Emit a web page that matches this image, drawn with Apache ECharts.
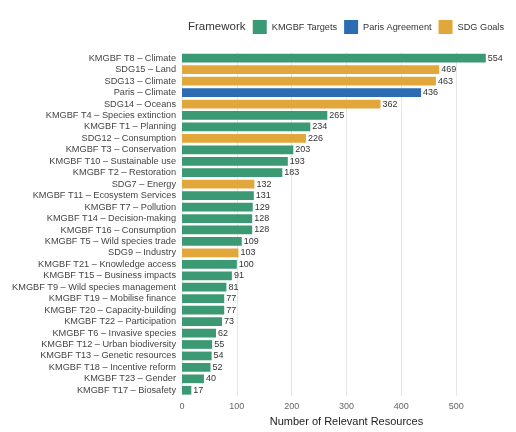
<!DOCTYPE html>
<html>
<head>
<meta charset="utf-8">
<script src="https://cdn.jsdelivr.net/npm/echarts@6/dist/echarts.min.js"></script>
<style>
  html, body { margin: 0; padding: 0; background: #fff; }
  #chart { width: 516px; height: 432px; }
</style>
</head>
<body>
<div id="chart"></div>
<script>
// Categories top to bottom, with counts and framework
const categories = [
    'KMGBF T8 – Climate', 'SDG15 – Land', 'SDG13 – Climate', 'Paris – Climate',
    'SDG14 – Oceans', 'KMGBF T4 – Species extinction', 'KMGBF T1 – Planning',
    'SDG12 – Consumption', 'KMGBF T3 – Conservation', 'KMGBF T10 – Sustainable use',
    'KMGBF T2 – Restoration', 'SDG7 – Energy', 'KMGBF T11 – Ecosystem Services',
    'KMGBF T7 – Pollution', 'KMGBF T14 – Decision-making', 'KMGBF T16 – Consumption',
    'KMGBF T5 – Wild species trade', 'SDG9 – Industry', 'KMGBF T21 – Knowledge access',
    'KMGBF T15 – Business impacts', 'KMGBF T9 – Wild species management',
    'KMGBF T19 – Mobilise finance', 'KMGBF T20 – Capacity-building',
    'KMGBF T22 – Participation', 'KMGBF T6 – Invasive species',
    'KMGBF T12 – Urban biodiversity', 'KMGBF T13 – Genetic resources',
    'KMGBF T18 – Incentive reform', 'KMGBF T23 – Gender', 'KMGBF T17 – Biosafety'
];
const counts = [554, 469, 463, 436, 362, 265, 234, 226, 203, 193, 183, 132, 131, 129, 128,
    128, 109, 103, 100, 91, 81, 77, 77, 73, 62, 55, 54, 52, 40, 17];
const frameworkOf = ['K', 'S', 'S', 'P', 'S', 'K', 'K', 'S', 'K', 'K', 'K', 'S', 'K', 'K', 'K',
    'K', 'K', 'S', 'K', 'K', 'K', 'K', 'K', 'K', 'K', 'K', 'K', 'K', 'K', 'K'];
const frameworks = [
    { key: 'K', name: 'KMGBF Targets', color: '#3b9a73' },
    { key: 'P', name: 'Paris Agreement', color: '#2b6cb2' },
    { key: 'S', name: 'SDG Goals', color: '#e2a73a' }
];
const xTicks = [0, 100, 200, 300, 400, 500];

//One series per framework, overlaid on the same slots
let series = frameworks.map(function(fw) {
    return {
        name: fw.name,
        type: 'bar',
        barGap: '-100%',
        barCategoryGap: '24%',
        itemStyle: { color: fw.color },
        label: {
            show: true,
            position: 'right',
            distance: 2,
            color: '#333',
            fontSize: 9,
            fontFamily: 'Liberation Sans'
        },
        data: counts.map(function(v, i) {
            return frameworkOf[i] === fw.key ? v : '-';
        })
    };
});

let chart = echarts.init(document.getElementById('chart'));
chart.setOption({
    animation: false,
    textStyle: { fontFamily: 'Liberation Sans' },
    title: {
        text: 'Framework',
        left: 188,
        top: 21,
        padding: 0,
        textStyle: { fontSize: 11.5, fontWeight: 'normal', color: '#333', fontFamily: 'Liberation Sans' }
    },
    legend: {
        right: 12,
        top: 20,
        padding: 0,
        itemWidth: 14,
        itemHeight: 14,
        itemGap: 7,
        icon: 'rect',
        textStyle: { fontSize: 9.2, color: '#333', fontFamily: 'Liberation Sans' },
        data: frameworks.map(function(f) { return f.name; })
    },
    grid: {
        left: 182,
        right: 5,
        top: 52.5,
        bottom: 32.5,
        containLabel: false
    },
    xAxis: {
        type: 'value',
        min: 0,
        max: 600,
        interval: 100,
        name: 'Number of Relevant Resources',
        nameLocation: 'middle',
        nameGap: 20,
        nameTextStyle: { fontSize: 11, color: '#222' },
        axisLine: { show: false },
        axisTick: { show: false },
        axisLabel: {
            fontSize: 9,
            color: '#666',
            margin: 6,
            formatter: function(v) { return xTicks.indexOf(v) >= 0 ? String(v) : ''; }
        },
        splitLine: {
            show: true,
            showMaxLine: false,
            lineStyle: { color: '#e6e6e6', width: 1 }
        }
    },
    yAxis: {
        type: 'category',
        inverse: true,
        data: categories,
        axisLine: { show: false },
        axisTick: { show: false },
        axisLabel: { fontSize: 9.2, color: '#444', margin: 6, interval: 0 }
    },
    series: series
});
</script>
</body>
</html>
